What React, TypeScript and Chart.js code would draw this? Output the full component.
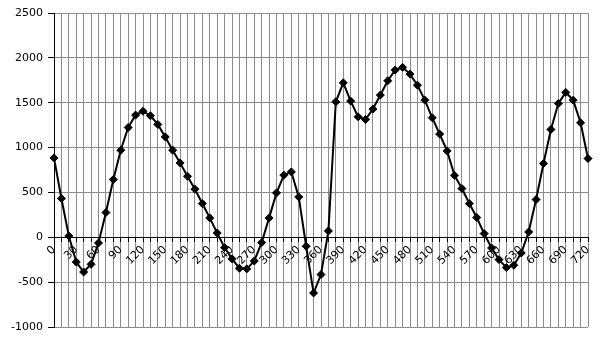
import React, { useEffect, useRef } from "react";
import { Chart, registerables } from "chart.js";

Chart.register(...registerables);

const angles: string[] = [
  "0", "10", "20", "30", "40", "50", "60", "70", "80", "90",
  "100", "110", "120", "130", "140", "150", "160", "170", "180", "190",
  "200", "210", "220", "230", "240", "250", "260", "270", "280", "290",
  "300", "310", "320", "330", "340", "350", "360", "370", "380", "390",
  "400", "410", "420", "430", "440", "450", "460", "470", "480", "490",
  "500", "510", "520", "530", "540", "550", "560", "570", "580", "590",
  "600", "610", "620", "630", "640", "650", "660", "670", "680", "690",
  "700", "710", "720",
];

const values: number[] = [
  885, 432, 15, -276, -387, -301, -63, 276, 644, 971,
  1224, 1362, 1405, 1355, 1258, 1119, 971, 829, 680, 536,
  376, 216, 48, -115, -240, -345, -352, -264, -59, 216,
  495, 692, 729, 450, -100, -621, -415, 70, 1510, 1722,
  1518, 1343, 1313, 1429, 1585, 1745, 1864, 1894, 1819, 1696,
  1529, 1332, 1150, 963, 690, 543, 376, 220, 41, -119,
  -249, -338, -312, -175, 59, 421, 822, 1202, 1492, 1615,
  1529, 1276, 878,
];

const yMin = -1000;
const yMax = 2500;
const yStep = 500;

export default function App() {
  const ref = useRef<HTMLCanvasElement | null>(null);

  useEffect(() => {
    if (!ref.current) return;
    const font = { family: "DejaVu Sans", size: 11 };
    const grey = "#8c8c8c";
    const chart = new Chart(ref.current, {
      type: "line",
      data: {
        labels: angles,
        datasets: [
          {
            data: values,
            borderColor: "#000000",
            backgroundColor: "#000000",
            borderWidth: 2,
            tension: 0,
            pointStyle: "rectRot",
            pointRadius: 4,
            pointBorderWidth: 1,
            pointBackgroundColor: "#000000",
            pointBorderColor: "#000000",
            fill: false,
          },
        ],
      },
      options: {
        animation: false,
        responsive: false,
        maintainAspectRatio: false,
        layout: { padding: { top: 5, right: 9, bottom: 5, left: 0 } },
        plugins: {
          legend: { display: false },
          tooltip: { enabled: false },
        },
        scales: {
          x: {
            type: "category",
            position: { y: 0 } as any,
            offset: false,
            afterFit: (s: any) => {
              s.height = 0;
              s.paddingLeft = 0;
              s.paddingRight = 0;
              s.paddingTop = 0;
              s.paddingBottom = 0;
            },
            grid: {
              color: grey,
              lineWidth: 1,
              tickColor: "#000000",
              tickLength: 4,
              drawTicks: true,
            },
            border: { display: true, color: "#000000", width: 1 },
            ticks: {
              autoSkip: false,
              minRotation: 45,
              maxRotation: 45,
              padding: 2,
              color: "#000000",
              font,
              callback: function (this: any, val: any, idx: number) {
                return idx % 3 === 0 ? this.getLabelForValue(val) : "";
              },
            },
          },
          y: {
            type: "linear",
            min: yMin,
            max: yMax,
            afterFit: (s: any) => {
              s.width = 46;
              s.paddingTop = 0;
              s.paddingBottom = 0;
              s.paddingLeft = 0;
              s.paddingRight = 0;
            },
            grid: {
              color: grey,
              lineWidth: 1,
              tickColor: "#000000",
              tickLength: 6,
            },
            border: { display: true, color: "#000000", width: 1 },
            ticks: {
              stepSize: yStep,
              padding: 5,
              color: "#000000",
              font,
              callback: (v: any) => String(v),
            },
          },
        },
      },
    });
    return () => chart.destroy();
  }, []);

  return (
    <div style={{ width: 589, height: 324 }}>
      <canvas ref={ref} width={589} height={324} style={{ width: 589, height: 324 }} />
    </div>
  );
}
